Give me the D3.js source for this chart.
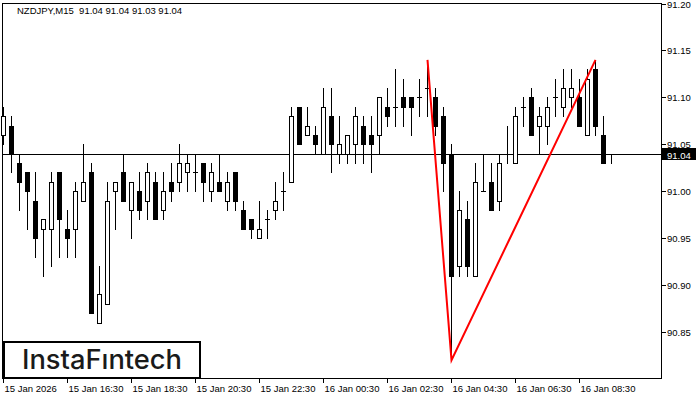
<!DOCTYPE html>
<html>
<head>
<meta charset="utf-8">
<script src="https://cdn.jsdelivr.net/npm/d3@7/dist/d3.min.js"></script>
<style>
    body { margin: 0; background: #ffffff; }
    svg text { font-family: "Liberation Sans", Arial, sans-serif; }
</style>
</head>
<body>
<svg class="chart_svg" width="700" height="400"></svg>
<script>
/* NZDJPY M15 candles, one per 15 minutes from 15 Jan 14:30 */
let opens = [91.06, 91.07, 91.03, 91.02, 90.99, 90.96, 90.96, 91.02, 90.96, 90.96,
    90.99, 91.02, 90.86, 90.88, 91.00, 91.02, 90.98, 91.00, 90.99, 91.01,
    90.98, 91.01, 91.01, 91.02, 91.02, 91.03, 91.00, 91.01, 90.99, 91.02,
    90.98, 90.97, 90.95, 90.97, 90.98, 91.00, 91.01, 91.09, 91.06, 91.06,
    91.04, 91.08, 91.04, 91.04, 91.05, 91.07, 91.06, 91.06, 91.09, 91.09,
    91.10, 91.10, 91.10, 91.11, 91.10, 91.08, 91.04, 90.92, 90.97, 90.91,
    91.00, 91.01, 90.99, 91.04, 91.03, 91.09, 91.10, 91.07, 91.07, 91.10,
    91.09, 91.10, 91.10, 91.06, 91.13, 91.06, 91.04];
let highs = [91.09, 91.08, 91.04, 91.02, 91.02, 90.97, 91.02, 91.02, 90.98, 91.01,
    91.05, 91.03, 90.92, 91.01, 91.01, 91.04, 91.01, 91.02, 91.03, 91.02,
    91.02, 91.03, 91.05, 91.04, 91.04, 91.03, 91.03, 91.04, 91.02, 91.02,
    90.99, 90.97, 90.99, 90.98, 91.01, 91.02, 91.09, 91.09, 91.09, 91.07,
    91.11, 91.11, 91.08, 91.06, 91.09, 91.08, 91.08, 91.10, 91.11, 91.13,
    91.12, 91.10, 91.12, 91.14, 91.11, 91.09, 91.05, 91.00, 90.99, 91.03,
    91.04, 91.03, 91.04, 91.07, 91.09, 91.10, 91.11, 91.09, 91.10, 91.12,
    91.13, 91.13, 91.12, 91.13, 91.14, 91.08, 91.04];
let lows = [91.05, 91.02, 90.98, 90.96, 90.93, 90.91, 90.92, 90.93, 90.93, 90.93,
    90.99, 90.87, 90.86, 90.88, 90.96, 90.99, 90.95, 90.97, 90.97, 90.97,
    90.97, 90.99, 91.00, 91.00, 91.00, 90.99, 90.99, 91.00, 90.98, 90.98,
    90.96, 90.95, 90.95, 90.95, 90.97, 90.98, 91.01, 91.05, 91.06, 91.04,
    91.04, 91.02, 91.03, 91.03, 91.03, 91.03, 91.02, 91.04, 91.07, 91.07,
    91.07, 91.06, 91.08, 91.08, 91.06, 91.00, 90.82, 90.91, 90.91, 90.91,
    91.00, 90.98, 90.98, 91.03, 91.03, 91.07, 91.06, 91.04, 91.05, 91.08,
    91.08, 91.09, 91.07, 91.06, 91.06, 91.03, 91.03];
let closes = [91.08, 91.04, 91.01, 91.00, 90.95, 90.97, 91.01, 90.97, 90.95, 91.00,
    91.01, 90.87, 90.89, 90.99, 91.01, 90.99, 91.01, 90.98, 91.02, 90.97,
    91.00, 91.00, 91.03, 91.03, 91.02, 91.01, 91.02, 91.00, 91.01, 90.99,
    90.96, 90.96, 90.96, 90.97, 90.99, 91.00, 91.08, 91.05, 91.07, 91.05,
    91.09, 91.05, 91.05, 91.06, 91.08, 91.05, 91.05, 91.10, 91.08, 91.09,
    91.09, 91.09, 91.10, 91.11, 91.07, 91.03, 90.91, 90.98, 90.92, 91.01,
    91.00, 90.98, 91.03, 91.04, 91.08, 91.09, 91.06, 91.08, 91.09, 91.10,
    91.11, 91.11, 91.07, 91.12, 91.07, 91.03, 91.04];

/* Axis labels */
let time_labels = ["15 Jan 2026", "15 Jan 16:30", "15 Jan 18:30", "15 Jan 20:30", "15 Jan 22:30",
    "16 Jan 00:30", "16 Jan 02:30", "16 Jan 04:30", "16 Jan 06:30", "16 Jan 08:30"];
let time_label_idx = [0, 8, 16, 24, 32, 40, 48, 56, 64, 72];
let price_ticks = [90.85, 90.90, 90.95, 91.00, 91.05, 91.10, 91.15, 91.20];

/* Red pattern line (bar index, price) */
let pattern_idx = [53, 56, 74];
let pattern_price = [91.14, 90.82, 91.14];

let last_price = 91.04;
let header = "NZDJPY,M15  91.04 91.04 91.03 91.04";

let svg = d3.select("svg.chart_svg");

let plot = {left: 2, top: 3, right: 661, bottom: 378};
let label_size = "9.5px";

let x = d3.scaleLinear().domain([0, 76]).range([3, 611]);
let y = d3.scaleLinear().domain([90.85, 91.20]).range([332, 3.5]);

let candles = d3.range(opens.length).map(function(i){
    return {i: i, o: opens[i], h: highs[i], l: lows[i], c: closes[i]};
});

draw_frame();
draw_price_line();
draw_candles();
draw_pattern();
draw_logo();

function draw_frame(){
    svg.append("rect")
        .attr("x", plot.left + 0.5).attr("y", plot.top + 0.5)
        .attr("width", plot.right - plot.left).attr("height", plot.bottom - plot.top)
        .attr("fill", "none").attr("stroke", "#000").attr("stroke-width", 1);

    // price axis on the right
    let p_axis = svg.append("g");
    price_ticks.forEach(function(p){
        let yy = Math.round(y(p)) + 0.5;
        p_axis.append("line")
            .attr("x1", plot.right + 1).attr("x2", plot.right + 5)
            .attr("y1", yy).attr("y2", yy)
            .attr("stroke", "#000");
        p_axis.append("text")
            .attr("x", plot.right + 6).attr("y", yy + 3.5)
            .attr("font-size", label_size).attr("fill", "#000")
            .text(p.toFixed(2));
    });

    // time axis
    let t_axis = svg.append("g");
    time_label_idx.forEach(function(idx, k){
        let xx = Math.round(x(idx)) + 0.5;
        t_axis.append("line")
            .attr("x1", xx).attr("x2", xx)
            .attr("y1", plot.bottom + 1).attr("y2", plot.bottom + 5)
            .attr("stroke", "#000");
        t_axis.append("text")
            .attr("x", xx + 1).attr("y", 392)
            .attr("font-size", label_size).attr("fill", "#000")
            .text(time_labels[k]);
    });

    svg.append("text")
        .attr("x", 17).attr("y", 14)
        .attr("font-size", label_size).attr("fill", "#000")
        .attr("xml:space", "preserve")
        .text(header);
}

function draw_price_line(){
    let yy = Math.round(y(last_price)) + 0.5;
    svg.append("line")
        .attr("x1", plot.left).attr("x2", plot.right)
        .attr("y1", yy).attr("y2", yy)
        .attr("stroke", "#000");

    svg.append("rect")
        .attr("x", plot.right + 1).attr("y", yy - 6.5)
        .attr("width", 34).attr("height", 12)
        .attr("fill", "#000");
    svg.append("text")
        .attr("x", plot.right + 6).attr("y", yy + 4)
        .attr("font-size", label_size).attr("fill", "#fff")
        .text(last_price.toFixed(2));
}

function draw_candles(){
    let g = svg.append("g");

    let bars = g.selectAll("g.candle").data(candles).enter()
        .append("g").attr("class", "candle");

    bars.append("line")
        .attr("x1", function(d){ return Math.round(x(d.i)) + 0.5; })
        .attr("x2", function(d){ return Math.round(x(d.i)) + 0.5; })
        .attr("y1", function(d){ return Math.round(y(d.h)); })
        .attr("y2", function(d){ return Math.round(y(d.l)) + 1; })
        .attr("stroke", "#000");

    bars.each(function(d){
        let cx = Math.round(x(d.i));
        let top = Math.round(y(Math.max(d.o, d.c)));
        let bot = Math.round(y(Math.min(d.o, d.c)));
        let el = d3.select(this);
        if(d.o === d.c){ // doji
            el.append("line")
                .attr("x1", cx - 2).attr("x2", cx + 3)
                .attr("y1", top + 0.5).attr("y2", top + 0.5)
                .attr("stroke", "#000");
        }
        else if(d.c > d.o){ // bull -> white body
            el.append("rect")
                .attr("x", cx - 1.5).attr("y", top + 0.5)
                .attr("width", 4).attr("height", bot - top)
                .attr("fill", "#fff").attr("stroke", "#000");
        }
        else{ // bear -> black body
            el.append("rect")
                .attr("x", cx - 2).attr("y", top)
                .attr("width", 5).attr("height", bot - top + 1)
                .attr("fill", "#000");
        }
    });
}

function draw_pattern(){
    let pts = pattern_idx.map(function(idx, k){
        return [x(idx) + 0.5, y(pattern_price[k])];
    });
    svg.append("path")
        .attr("d", d3.line()(pts))
        .attr("fill", "none")
        .attr("stroke", "#ff0000")
        .attr("stroke-width", 2);
}

function draw_logo(){
    svg.append("rect")
        .attr("x", 4).attr("y", 342)
        .attr("width", 196).attr("height", 36)
        .attr("fill", "#fff").attr("stroke", "#000").attr("stroke-width", 2);
    svg.append("text")
        .attr("x", 102).attr("y", 369)
        .attr("text-anchor", "middle")
        .attr("font-size", "27px")
        .attr("font-weight", 500)
        .attr("fill", "#1a1a1a")
        .attr("textLength", 160)
        .attr("lengthAdjust", "spacingAndGlyphs")
        .style("font-family", "Inter, 'Open Sans', sans-serif")
        .text("InstaF\u0131ntech");
}
</script>
</body>
</html>
